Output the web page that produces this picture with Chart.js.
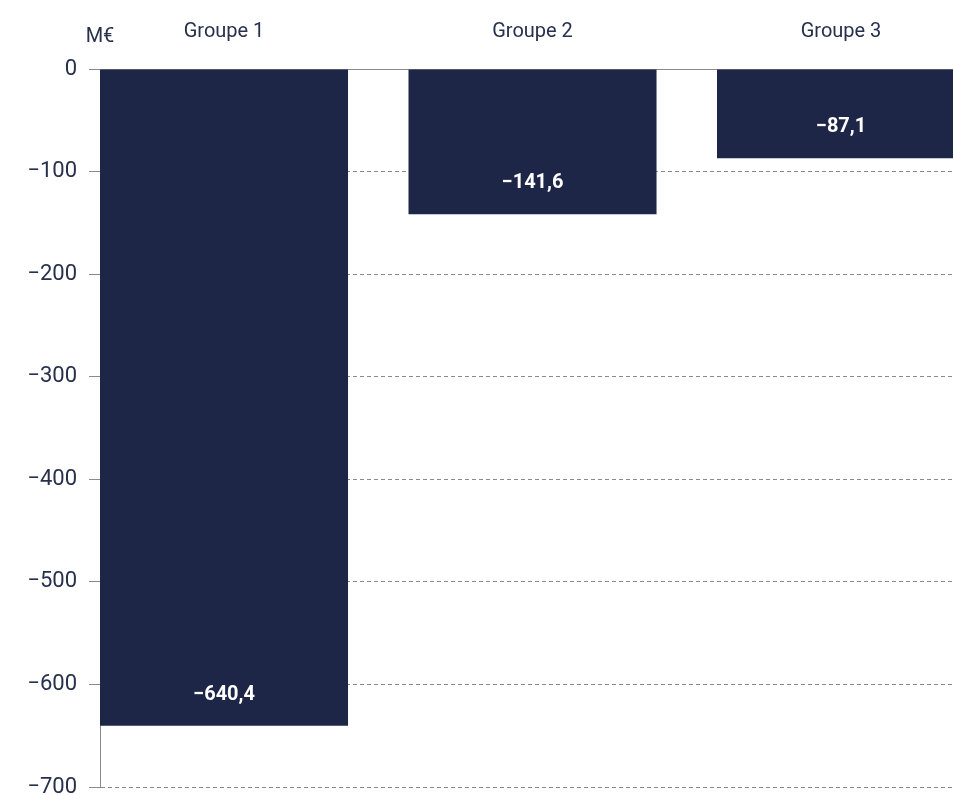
<!DOCTYPE html>
<html>
<head>
<meta charset="utf-8">
<script src="https://cdn.jsdelivr.net/npm/chart.js@4/dist/chart.umd.min.js"></script>
<style>
  html, body { margin: 0; padding: 0; background: #ffffff; overflow: hidden; }
  canvas { display: block; }
</style>
</head>
<body>
<canvas id="c" width="953" height="795"></canvas>
<script>
const categories = ['Groupe 1', 'Groupe 2', 'Groupe 3'];
const values = [-640.4, -141.6, -87.1];
const yTicks = [0, -100, -200, -300, -400, -500, -600, -700];
const unitLabel = 'M€';

const NAVY = '#1e2647';
const TEXT = '#27304d';
const GRAY = '#8a8a8a';
const FONT = 'Roboto, "Liberation Sans", sans-serif';

function fmt(v, decimals) {
  const s = Math.abs(v).toFixed(decimals).replace('.', ',');
  return (v < 0 ? '\u2212' : '') + s;
}

const barLabels = {
  id: 'barLabels',
  afterDatasetsDraw(chart) {
    const ctx = chart.ctx;
    const meta = chart.getDatasetMeta(0);
    ctx.save();
    ctx.fillStyle = '#ffffff';
    ctx.font = 'bold 20px ' + FONT;
    ctx.textAlign = 'center';
    ctx.textBaseline = 'middle';
    meta.data.forEach((bar, i) => {
      ctx.fillText(fmt(values[i], 1), bar.x, bar.y - 31);
    });
    ctx.restore();
  }
};

const unitTitle = {
  id: 'unitTitle',
  afterDraw(chart) {
    const ctx = chart.ctx;
    const ys = chart.scales.y;
    ctx.save();
    ctx.fillStyle = TEXT;
    ctx.font = '20px ' + FONT;
    ctx.textAlign = 'center';
    ctx.textBaseline = 'middle';
    ctx.fillText(unitLabel, ys.right, 37);
    ctx.restore();
  }
};

new Chart(document.getElementById('c'), {
  type: 'bar',
  data: {
    datasets: [{
      data: values.map((v, i) => ({ x: i, y: v })),
      backgroundColor: NAVY,
      borderWidth: 0,
      barPercentage: 1,
      categoryPercentage: 0.804
    }]
  },
  options: {
    responsive: false,
    animation: false,
    events: [],
    layout: { padding: { top: 0, bottom: 8, left: 0, right: 0 } },
    plugins: { legend: { display: false }, tooltip: { enabled: false } },
    scales: {
      x: {
        type: 'linear',
        position: 'top',
        min: -0.402,
        max: 2.363,
        offset: false,
        afterBuildTicks: (scale) => { scale.ticks = categories.map((c, i) => ({ value: i })); },
        afterFit: (scale) => { scale.height = 69; scale.paddingLeft = 0; scale.paddingRight = 0; },
        grid: { display: false, drawTicks: false },
        border: { display: false },
        ticks: {
          autoSkip: false,
          maxRotation: 0,
          padding: 25,
          color: TEXT,
          font: { family: FONT, size: 20 },
          callback: (v) => categories[v]
        }
      },
      y: {
        min: -700,
        max: 0,
        afterBuildTicks: (scale) => { scale.ticks = yTicks.map(v => ({ value: v })); },
        afterFit: (scale) => { scale.width = 100; scale.paddingTop = 0; scale.paddingBottom = 0; },
        grid: {
          color: GRAY,
          lineWidth: 1,
          tickLength: 11,
          tickColor: GRAY,
          tickBorderDash: []
        },
        border: {
          display: true,
          color: GRAY,
          width: 1,
          dash: (ctx) => (ctx.type === 'tick' && ctx.tick && ctx.tick.value !== 0) ? [4, 3] : []
        },
        ticks: {
          padding: 12,
          color: TEXT,
          font: { family: FONT, size: 22 },
          callback: (v) => fmt(v, 0)
        }
      }
    }
  },
  plugins: [barLabels, unitTitle]
});
</script>
</body>
</html>
